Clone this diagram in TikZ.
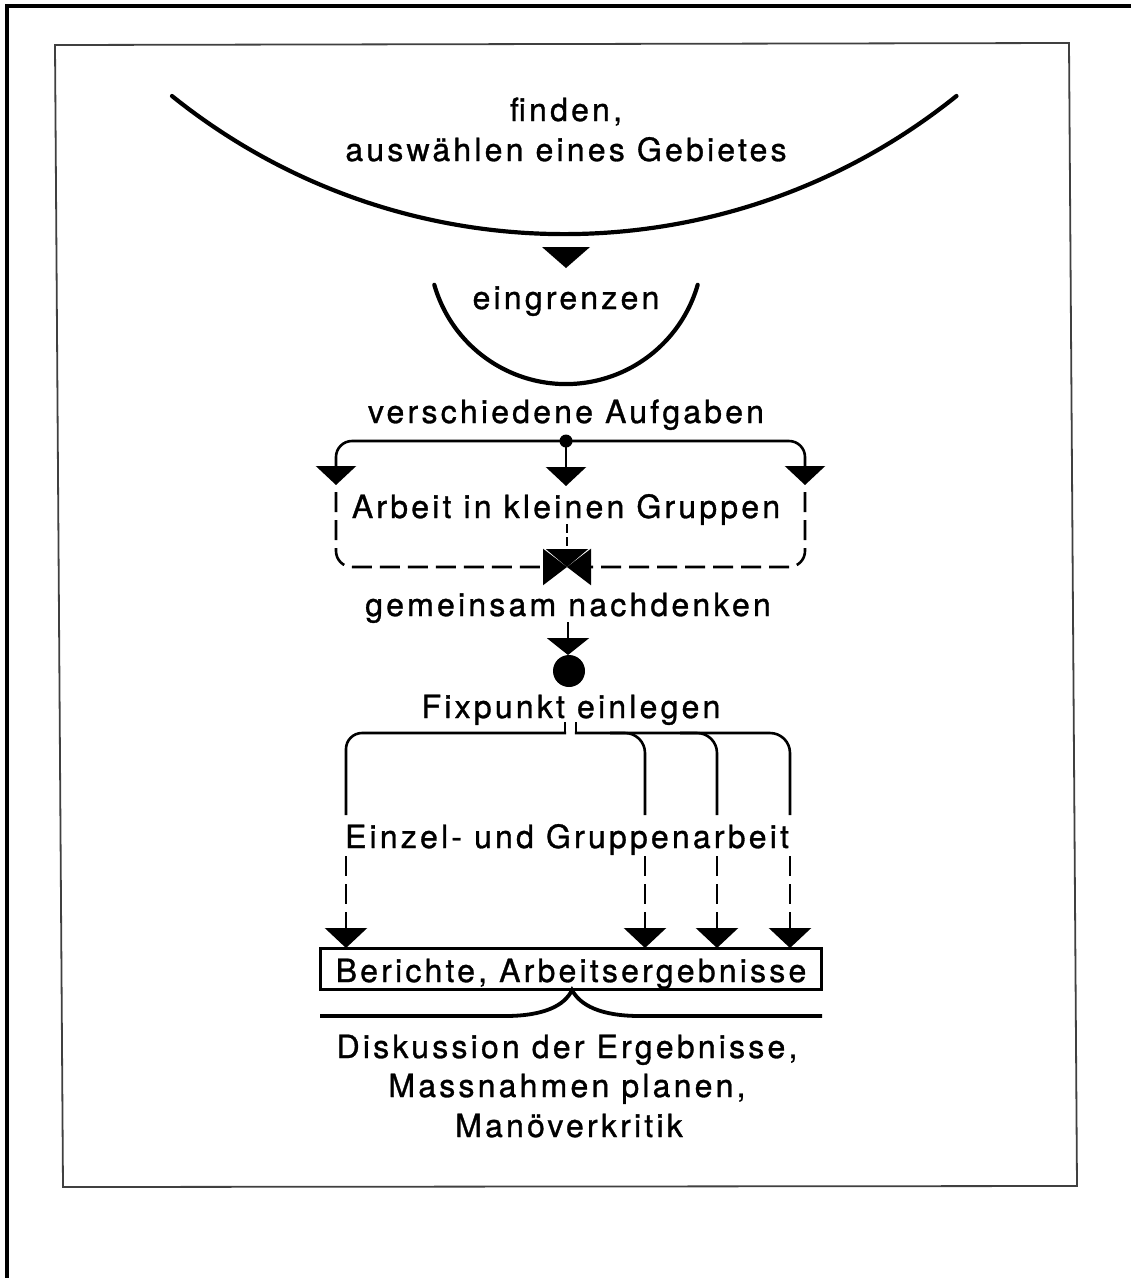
\documentclass[tikz,border=0pt]{standalone}
\usepackage{fontspec}
\setmainfont{TeX Gyre Heros}[LetterSpace=10, FakeBold=1]
\usetikzlibrary{arrows.meta}
\begin{document}
\begin{tikzpicture}[x=1pt,y=1pt,
  lbl/.style={font=\fontsize{32}{40}\selectfont, inner sep=0pt, align=center, anchor=base},
  bowl/.style={line width=4.2pt, line cap=round},
  conn/.style={line width=2.6pt},
  dsh/.style={conn, dash pattern=on 20pt off 8pt},
  tip/.style={-{Triangle[width=40pt,length=19pt]}},
  bowtip/.style={-{Triangle[width=36pt,length=24pt]}},
]
\useasboundingbox (0,0) rectangle (1131,-1278);
\fill[white] (0,0) rectangle (1131,-1278);
% frames
\draw[line width=3.5pt] (7,-1278) -- (7,-6) -- (1131,-6);
\draw[line width=1.8pt, black!75] (55,-45) -- (1069,-43) -- (1077,-1186) -- (63,-1187) -- cycle;

% texts
\node[lbl] (finden) at (566,-121) {finden,};
\node[lbl] (auswahl) at (566,-161) {auswählen eines Gebietes};
\node[lbl] (eingr) at (566,-309) {eingrenzen};
\node[lbl] (versch) at (566,-423) {verschiedene Aufgaben};
\node[lbl] (arbeit) at (566,-518) {Arbeit in kleinen Gruppen};
\node[lbl] (gemein) at (568,-616) {gemeinsam nachdenken};
\node[lbl] (fix) at (571,-718) {Fixpunkt einlegen};
\node[lbl] (einzel) at (567,-848) {Einzel- und Gruppenarbeit};
\node[draw, line width=2.2pt, minimum width=501pt, minimum height=41pt, inner sep=0pt] (ber) at (571,-969) {};
\node[lbl] (bertxt) at (571,-982) {Berichte, Arbeitsergebnisse};
\node[lbl] (disk) at (567,-1058) {Diskussion der Ergebnisse,};
\node[lbl] (mass) at (567,-1097) {Massnahmen planen,};
\node[lbl] (mano) at (569,-1137) {Manöverkritik};

% top bowl
\draw[bowl] (172,-96) arc[start angle=231.2, end angle=308.8, radius=626];
\fill (542,-247) -- (590,-247) -- (566,-268) -- cycle;
% eingrenzen bowl
\draw[bowl] (434.3,-284.8) arc[start angle=196, end angle=344, radius=137];

% branching
\coordinate (bdot) at (566,-441);
\draw[conn, rounded corners=16pt, {Triangle[width=40pt,length=19pt]}-{Triangle[width=40pt,length=19pt]}] (336,-485) |- (bdot) -| (805,-485);
\draw[conn, tip] (bdot) -- (566,-486);
\fill (bdot) circle (6.5);

% dashed box with bow tie
\coordinate (bow) at (567,-567);
\draw[dsh, rounded corners=16pt, bowtip] (336,-492) |- (bow);
\draw[dsh, rounded corners=16pt, bowtip] (805,-492) |- (bow);
\draw[conn, dash pattern=on 9pt off 4pt, -{Triangle[width=42pt,length=18pt]}] (567,-524) -- (bow);

% to fixpoint
\draw[conn, -{Triangle[width=42pt,length=17pt]}] (568,-622) -- (568,-655);
\fill (569,-671) circle (16);

% fixpoint branches
\draw[conn] (565,-722) -- (565,-734.3);
\draw[conn, rounded corners=16pt] (566.2,-733) -- (346,-733) -- (346,-815);
\draw[conn] (576,-722) -- (576,-734.3);
\draw[conn, rounded corners=20pt] (574.8,-733) -- (790,-733) -- (790,-815);
\draw[conn, rounded corners=20pt] (610,-733) -| (645,-815);
\draw[conn, rounded corners=20pt] (680,-733) -| (717,-815);

\foreach \x in {346,645,717,790}{
  \draw[dsh, -{Triangle[width=42pt,length=20pt]}] (\x,-856) -- (\x,-948);
}

% brace
\draw[line width=3.8pt] (320,-1016) -- (505,-1016) .. controls (545,-1016) and (565,-1005) .. (572,-990) .. controls (580,-1005) and (600,-1016) .. (640,-1016) -- (822,-1016);
\end{tikzpicture}
\end{document}
